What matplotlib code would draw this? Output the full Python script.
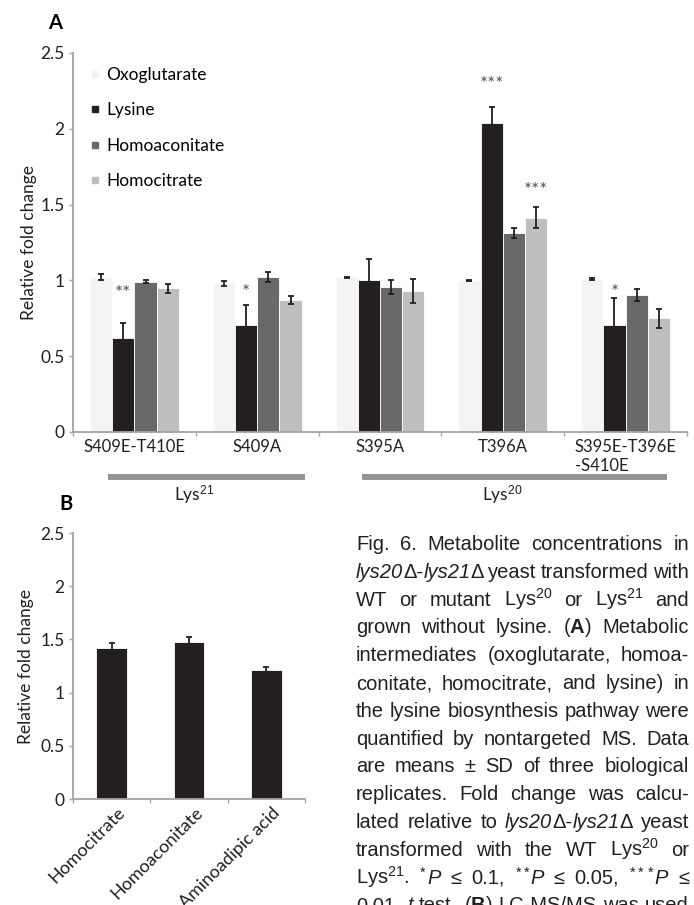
import matplotlib
matplotlib.use('Agg')
import matplotlib.pyplot as plt
from matplotlib.lines import Line2D
import numpy as np

# panel A data
mutants = ['S409E-T410E', 'S409A', 'S395A', 'T396A', 'S395E-T396E\n-S410E']
metabolites = ['Oxoglutarate', 'Lysine', 'Homoaconitate', 'Homocitrate']
oxoglutarate = [1.02, 0.98, 1.02, 1.00, 1.01]
oxoglutarate_sd = [0.02, 0.015, 0.005, 0.005, 0.005]
lysine = [0.62, 0.705, 1.00, 2.035, 0.705]
lysine_sd = [0.10, 0.133, 0.14, 0.11, 0.18]
homoaconitate = [0.99, 1.02, 0.955, 1.31, 0.905]
homoaconitate_sd = [0.01, 0.033, 0.046, 0.033, 0.041]
homocitrate = [0.948, 0.872, 0.93, 1.414, 0.75]
homocitrate_sd = [0.03, 0.027, 0.08, 0.071, 0.062]
# (group, metabolite, label, y)
stars = [(0, 1, '**', 0.94), (1, 1, '*', 0.95), (3, 1, '***', 2.32),
         (3, 3, '***', 1.62), (4, 1, '*', 0.95)]
lys_groups = [('Lys$^{21}$', 0.285, 1.89), ('Lys$^{20}$', 2.353, 4.837)]

# panel B data
compounds = ['Homocitrate', 'Homoaconitate', 'Aminoadipic acid']
fold = [1.42, 1.478, 1.217]
fold_sd = [0.05, 0.04, 0.02]

colors = ['#f4f4f4', '#231f20', '#696969', '#bcbec0']
axis_gray = '#a3a3a3'

plt.rcParams['font.family'] = ['Lato', 'DejaVu Sans']
plt.rcParams['font.size'] = 12
plt.rcParams['mathtext.fontset'] = 'custom'
plt.rcParams['mathtext.rm'] = 'Liberation Sans'
plt.rcParams['mathtext.it'] = 'Liberation Sans:italic'
plt.rcParams['mathtext.bf'] = 'Liberation Sans:bold'

W, H = 694, 905
fig = plt.figure(figsize=(W / 100, H / 100), dpi=100)


def style_axes(ax):
    for s in ['top', 'right']:
        ax.spines[s].set_visible(False)
    for s in ['left', 'bottom']:
        ax.spines[s].set_color(axis_gray)
        ax.spines[s].set_linewidth(1.3)
    ax.tick_params(which='major', color=axis_gray, length=3, width=1, labelsize=12.5,
                   pad=3, labelcolor='#231f20')
    ax.set_ylim(0, 2.5)
    ax.set_yticks([0, 0.5, 1, 1.5, 2, 2.5])
    ax.set_yticklabels(['0', '0.5', '1', '1.5', '2', '2.5'])
    ax.set_ylabel('Relative fold change', fontsize=12.5, color='#231f20')


# ---- panel A ----
axA = fig.add_axes([73 / W, 1 - 432 / H, 614 / W, 379 / H])
style_axes(axA)
axA.yaxis.set_label_coords(-0.058, 0.5)
series = [(oxoglutarate, oxoglutarate_sd), (lysine, lysine_sd),
          (homoaconitate, homoaconitate_sd), (homocitrate, homocitrate_sd)]
bw = 0.181
centers = np.arange(len(mutants)) + 0.5
for k, (vals, sd) in enumerate(series):
    x = centers + (k - 1.5) * bw
    axA.bar(x, vals, bw, color=colors[k], edgecolor='white', linewidth=0.6,
            label=metabolites[k], zorder=2)
    axA.errorbar(x, vals, yerr=sd, fmt='none', ecolor='#231f20', elinewidth=1.3,
                 capsize=2, capthick=1.3, zorder=3)
for g, k, lab, y in stars:
    axA.text(centers[g] + (k - 1.5) * bw, y - 0.065, lab, ha='center', va='baseline',
             fontsize=13.5, color='#555555')
axA.set_xlim(0, len(mutants))
axA.set_xticks(np.arange(len(mutants) + 1))
axA.set_xticklabels([])
axA.set_xticks(centers, minor=True)
axA.set_xticklabels(mutants, minor=True)
axA.tick_params(which='minor', length=0, labelsize=12, pad=5, labelcolor='#231f20')
for t in axA.get_xticklabels(minor=True):
    t.set_multialignment('left')
for lab, x0, x1 in lys_groups:
    axA.plot([x0, x1], [-0.295, -0.295], color='#939598', lw=4.3,
             solid_capstyle='butt', clip_on=False)
    axA.text((x0 + x1) / 2 - 0.1, -0.449, lab, ha='center', va='baseline',
             fontsize=12.5, color='#231f20', clip_on=False)
handles = [Line2D([], [], ls='none', marker='s', markersize=5, color=c) for c in colors]
axA.legend(handles, metabolites, loc='upper left', bbox_to_anchor=(90 / W, 1 - 67 / H),
           bbox_transform=fig.transFigure, frameon=False, handlelength=0.6,
           handletextpad=0.35, labelspacing=1.12, borderpad=0, borderaxespad=0,
           fontsize=12.5)
fig.text(55 / W, 1 - 29 / H, 'A', fontsize=14.5, fontweight='bold', ha='center',
         va='baseline')

# ---- panel B ----
axB = fig.add_axes([73 / W, 1 - 799 / H, 232 / W, 266 / H])
style_axes(axB)
axB.yaxis.set_label_coords(-0.17, 0.5)
xb = np.arange(len(compounds)) + 0.5
axB.bar(xb, fold, 0.4, color=colors[1], edgecolor='white', linewidth=0.6, zorder=2)
axB.errorbar(xb, fold, yerr=fold_sd, fmt='none', ecolor='#231f20', elinewidth=1.3,
             capsize=2, capthick=1.3, zorder=3)
axB.set_xlim(0, len(compounds))
axB.set_xticks(np.arange(len(compounds) + 1))
axB.set_xticklabels([])
axB.set_xticks(xb + 0.07, minor=True)
axB.set_xticklabels(compounds, minor=True, rotation=45, ha='right',
                    rotation_mode='anchor')
axB.tick_params(which='minor', length=0, labelsize=13, pad=4, labelcolor='#231f20')
fig.text(66 / W, 1 - 510 / H, 'B', fontsize=14.5, fontweight='bold', ha='center',
         va='baseline')

# ---- caption (justified); _x_ marks italic ----
caption = [
    'Fig. 6. Metabolite concentrations in',
    '_lys20_Δ-_lys21_Δ yeast transformed with',
    r'WT or mutant Lys$^{20}$ or Lys$^{21}$ and',
    r'grown without lysine. ($\bf{A}$) Metabolic',
    'intermediates (oxoglutarate, homoa-',
    'conitate, homocitrate, and lysine) in',
    'the lysine biosynthesis pathway were',
    'quantified by nontargeted MS. Data',
    'are means ± SD of three biological',
    'replicates. Fold change was calcu-',
    'lated relative to _lys20_Δ-_lys21_Δ yeast',
    r'transformed with the WT Lys$^{20}$ or',
    r'Lys$^{21}$. $^{*}$_P_ ≤ 0.1, $^{**}$_P_ ≤ 0.05, $^{***}$_P_ ≤',
    r'0.01, _t_ test. ($\bf{B}$) LC-MS/MS was used',
]
cap_x0, cap_x1 = 356, 689
cap_y0, cap_dy = 550, 27.8
renderer = fig.canvas.get_renderer()
for i, line in enumerate(caption):
    yb = 1 - (cap_y0 + i * cap_dy) / H
    words = []
    for w in line.split(' '):
        segs = []
        for j, part in enumerate(w.split('_')):
            if part:
                t = fig.text(0, yb, part, fontsize=14.5, family='Liberation Sans',
                             style='italic' if j % 2 else 'normal',
                             color='#231f20', va='baseline', ha='left')
                segs.append((t, t.get_window_extent(renderer=renderer).width))
        words.append(segs)
    total = sum(wd for segs in words for _, wd in segs)
    gap = (cap_x1 - cap_x0 - total) / (len(words) - 1)
    x = cap_x0
    for segs in words:
        for t, wd in segs:
            t.set_x(x / W)
            x += wd
        x += gap

fig.savefig('out.png', dpi=100)
